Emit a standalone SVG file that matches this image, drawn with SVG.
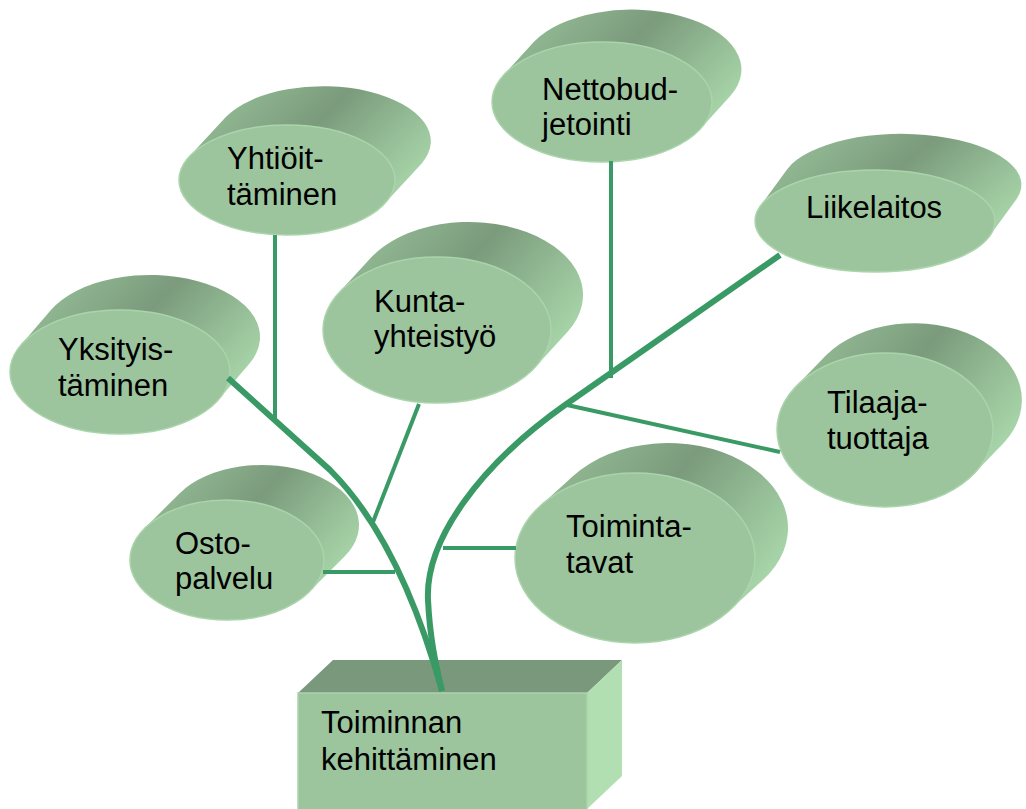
<svg xmlns="http://www.w3.org/2000/svg" width="1026" height="809" viewBox="0 0 1026 809">
  <defs>
    <linearGradient id="side" x1="0" y1="0.2" x2="1" y2="0.8">
      <stop offset="0" stop-color="#98c099"/>
      <stop offset="0.42" stop-color="#7b9b7c"/>
      <stop offset="0.72" stop-color="#98c199"/>
      <stop offset="1" stop-color="#b3e2b4"/>
    </linearGradient>
    <style>
      .side { fill: url(#side); }
      .face { fill: #9cc59d; stroke: #aad4ab; stroke-width: 1.5; }
      .lbl { font-family: "Liberation Sans", Arial, sans-serif; font-size: 31px; fill: #000; }
      .trunk { fill: none; stroke: #3a9a65; stroke-width: 6; }
      .twig { fill: none; stroke: #3a9a65; stroke-width: 4; }
      .boxTop { fill: #7a987b; }
      .boxFront { fill: #9cc59d; stroke: #aad4ab; stroke-width: 1.5; }
      .boxSide { fill: #b1dfb2; }
    </style>
  </defs>

  <rect width="1026" height="809" fill="#ffffff"/>

  <!-- Nodes: extruded ellipses (side hull + front face) -->
  <g id="node-yhtioittaminen">
    <path class="side" d="M189.3,156.6 L226.3,116.6 A108,55 0 0 1 421.7,163.4 L384.7,203.4 A108,55 0 0 1 189.3,156.6 Z"/>
    <ellipse class="face" cx="287" cy="180" rx="108" ry="55"/>
    <text class="lbl" x="227" y="169">Yhtiöit-</text>
    <text class="lbl" x="227" y="205">täminen</text>
  </g>

  <g id="node-nettobudjetointi">
    <path class="side" d="M503.5,75.3 L533.5,42.3 A110,60 0 0 1 730.5,95.7 L700.5,128.7 A110,60 0 0 1 503.5,75.3 Z"/>
    <ellipse class="face" cx="602" cy="102" rx="110" ry="60"/>
    <text class="lbl" x="542" y="100">Nettobud-</text>
    <text class="lbl" x="542" y="135">jetointi</text>
  </g>

  <g id="node-liikelaitos">
    <path class="side" d="M760.4,205.9 L787.4,168.9 A120,51 0 0 1 1016.6,199.1 L989.6,236.1 A120,51 0 0 1 760.4,205.9 Z"/>
    <ellipse class="face" cx="875" cy="221" rx="120" ry="51"/>
    <text class="lbl" x="806" y="218">Liikelaitos</text>
  </g>

  <g id="node-kuntayhteistyo">
    <path class="side" d="M338.6,293.1 L370.6,258.1 A114,73 0 0 1 567.4,331.9 L535.4,366.9 A114,73 0 0 1 338.6,293.1 Z"/>
    <ellipse class="face" cx="437" cy="330" rx="114" ry="73"/>
    <text class="lbl" x="374" y="312">Kunta-</text>
    <text class="lbl" x="374" y="347">yhteistyö</text>
  </g>

  <g id="node-yksityistaminen">
    <path class="side" d="M20.9,345 L50.9,310 A110,62 0 0 1 249.1,364 L219.1,399 A110,62 0 0 1 20.9,345 Z"/>
    <ellipse class="face" cx="120" cy="372" rx="110" ry="62"/>
    <text class="lbl" x="58" y="360">Yksityis-</text>
    <text class="lbl" x="58" y="396">täminen</text>
  </g>

  <g id="node-ostopalvelu">
    <path class="side" d="M144.5,528.4 L179.5,493.4 A97,60 0 0 1 344.5,556.6 L309.5,591.6 A97,60 0 0 1 144.5,528.4 Z"/>
    <ellipse class="face" cx="227" cy="560" rx="97" ry="60"/>
    <text class="lbl" x="175" y="554">Osto-</text>
    <text class="lbl" x="175" y="589">palvelu</text>
  </g>

  <g id="node-tilaajatuottaja">
    <path class="side" d="M796.1,386.3 L826.1,355.3 A108,77 0 0 1 1003.9,442.7 L973.9,473.7 A108,77 0 0 1 796.1,386.3 Z"/>
    <ellipse class="face" cx="885" cy="430" rx="108" ry="77"/>
    <text class="lbl" x="827" y="413">Tilaaja-</text>
    <text class="lbl" x="827" y="449">tuottaja</text>
  </g>

  <g id="node-toimintatavat">
    <path class="side" d="M540.4,505.7 L573.4,475.7 A120,85 0 0 1 762.6,580.3 L729.6,610.3 A120,85 0 0 1 540.4,505.7 Z"/>
    <ellipse class="face" cx="635" cy="558" rx="120" ry="85"/>
    <text class="lbl" x="566" y="537">Toiminta-</text>
    <text class="lbl" x="566" y="573">tavat</text>
  </g>

  <!-- Root block -->
  <g id="node-toiminnan-kehittaminen">
    <polygon class="boxTop" points="298,693 333,660 622,660 587,693"/>
    <polygon class="boxSide" points="587,693 622,660 622,776 587,809"/>
    <rect class="boxFront" x="298" y="693" width="289" height="120"/>
    <text class="lbl" x="321" y="733">Toiminnan</text>
    <text class="lbl" x="321" y="770">kehittäminen</text>
  </g>

  <!-- Connectors: two trunks and their branches -->
  <g id="connectors">
    <path class="trunk" d="M228,378 L330,470 Q400,540 442,691"/>
    <path class="trunk" d="M780,255 L565,405 C480,465 425,540 428,600 C430,640 436,665 442,691"/>
    <line class="twig" x1="275" y1="235" x2="275" y2="421"/>
    <line class="twig" x1="419" y1="404" x2="373" y2="522"/>
    <line class="twig" x1="323" y1="572" x2="395" y2="572"/>
    <line class="twig" x1="443" y1="548" x2="516" y2="548"/>
    <line class="twig" x1="611" y1="161" x2="611" y2="378"/>
    <line class="twig" x1="567" y1="405" x2="780" y2="452"/>
  </g>
</svg>
